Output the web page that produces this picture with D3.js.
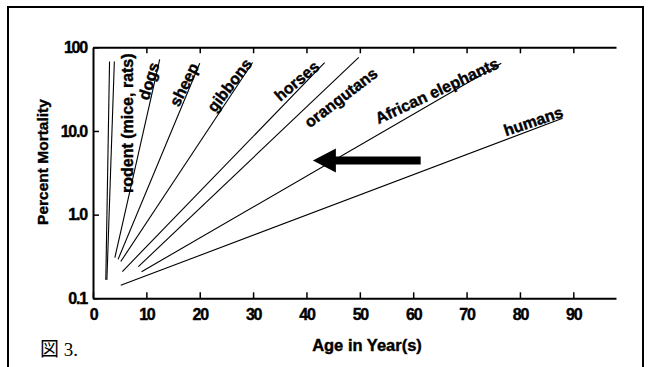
<!DOCTYPE html>
<html>
<head>
<meta charset="utf-8">
<script src="https://cdn.jsdelivr.net/npm/d3@7/dist/d3.min.js"></script>
<style>
  body { margin: 0; background: #fff; }
  text { font-family: "Liberation Sans", Arial, sans-serif; font-weight: bold; }
  .heavy { stroke: #000; stroke-width: 0.4px; }
</style>
</head>
<body>
<svg id="chart" width="652" height="367"></svg>
<script>
// mortality lines (age in years, percent mortality)
var species    = ["mice", "rats", "dogs", "sheep", "gibbons", "horses", "orangutans", "African elephants", "humans"];
var ageStart   = [2.4, 2.6, 4.1, 4.7, 5.2, 5.5, 8.5, 9.1, 5.2];
var ageEnd     = [3.1, 4.0, 12.5, 20.0, 29.9, 43.4, 49.8, 76.5, 88.0];
var mortStart  = [0.166, 0.166, 0.307, 0.292, 0.275, 0.209, 0.239, 0.208, 0.143];
var mortEnd    = [67.6, 67.6, 71.9, 64.4, 65.8, 65.5, 75.9, 64.4, 14.2];

var xTicks = [0, 10, 20, 30, 40, 50, 60, 70, 80, 90];
var yTicks = [0.1, 1, 10, 100];
var yTickLabels = ["0.1", "1.0", "10.0", "100"];

// big arrow pointing at the elephant line
var arrowAge  = [61.4, 41.2];
var arrowMort = [4.43, 4.43];

var svg = d3.select("#chart");

// outer frame
svg.append("rect")
  .attr("x", 8).attr("y", 7)
  .attr("width", 635).attr("height", 380)
  .attr("fill", "none").attr("stroke", "#000").attr("stroke-width", 2);

var x = d3.scaleLinear().domain([0, 98]).range([93, 616]);
var y = d3.scaleLog().domain([0.1, 100]).range([298.3, 47.3]);

// bottom axis, ticks point inward
var xAxis = svg.append("g")
  .attr("transform", "translate(0," + y(0.1) + ")")
  .call(d3.axisBottom(x).tickValues(xTicks).tickSizeInner(-6).tickSizeOuter(0).tickPadding(10));

// top frame line with ticks
var topAxis = svg.append("g")
  .attr("transform", "translate(0," + y(100) + ")")
  .call(d3.axisTop(x).tickValues(xTicks.slice(1)).tickSizeInner(-6).tickSizeOuter(0).tickFormat(""));

// left axis
var yAxis = svg.append("g")
  .attr("transform", "translate(" + x(0) + ",0)")
  .call(d3.axisLeft(y).tickValues(yTicks).tickSizeInner(-6).tickSizeOuter(0).tickPadding(6)
    .tickFormat(function(d, i){ return yTickLabels[i]; }));

[xAxis, topAxis, yAxis].forEach(function(g){
  g.select(".domain").attr("stroke-width", 2);
  g.selectAll(".tick line").attr("stroke-width", 1.5);
  g.selectAll(".tick text")
    .attr("class", "heavy")
    .attr("font-size", 16).attr("font-weight", "bold")
    .attr("font-family", "'Liberation Sans', Arial, sans-serif")
    .attr("letter-spacing", "-1.2px").attr("fill", "#000");
});

// axis titles
svg.append("text")
  .attr("class", "heavy")
  .attr("transform", "translate(48,162) rotate(-90)")
  .attr("text-anchor", "middle").attr("font-size", 15.5)
  .text("Percent Mortality");

svg.append("text")
  .attr("class", "heavy")
  .attr("x", 367).attr("y", 351)
  .attr("text-anchor", "middle").attr("font-size", 16.5)
  .text("Age in Year(s)");

svg.append("text")
  .attr("x", 40).attr("y", 356)
  .attr("font-size", 19)
  .style("font-family", "'Liberation Serif', 'Noto Sans CJK JP', serif")
  .style("font-weight", "normal")
  .text("図 3.");

// the lines
var lines = species.map(function(s, i){
  return { name: s, x0: x(ageStart[i]), y0: y(mortStart[i]), x1: x(ageEnd[i]), y1: y(mortEnd[i]) };
});

svg.append("g").selectAll("line")
  .data(lines).enter().append("line")
  .attr("x1", function(d){ return d.x0; })
  .attr("y1", function(d){ return d.y0; })
  .attr("x2", function(d){ return d.x1; })
  .attr("y2", function(d){ return d.y1; })
  .attr("stroke", "#000").attr("stroke-width", 1.1);

// labels sit along the upper end of each line, a little flatter than the line
var labelOpts = {
  "dogs":              { gap: 5,  perp: 1,  turn: 4 },
  "sheep":             { gap: 3,  perp: 1,  turn: 4 },
  "gibbons":           { gap: 1,  perp: 1,  turn: 4 },
  "horses":            { gap: 7,  perp: 1,  turn: 6 },
  "orangutans":        { gap: -2, perp: 27, turn: 6 },
  "African elephants": { gap: 3,  perp: 3,  turn: 5 },
  "humans":            { gap: -2, perp: -1, turn: 2 }
};

lines.forEach(function(d){
  var o = labelOpts[d.name];
  if (!o) return;
  var a = Math.atan2(d.y1 - d.y0, d.x1 - d.x0);
  var ux = Math.cos(a), uy = Math.sin(a);
  var px = d.x1 - ux * o.gap - uy * o.perp;
  var py = d.y1 - uy * o.gap + ux * o.perp;
  svg.append("text")
    .attr("class", "heavy")
    .attr("transform", "translate(" + px + "," + py + ") rotate(" + (a * 180 / Math.PI + o.turn) + ")")
    .attr("text-anchor", "end").attr("font-size", 16)
    .text(d.name);
});

// rodent label runs straight up beside the rodent lines
svg.append("text")
  .attr("class", "heavy")
  .attr("transform", "translate(" + (x(ageEnd[1]) + 19) + ",193) rotate(-90)")
  .attr("font-size", 16)
  .text("rodent (mice, rats)");

// arrow
var ax0 = x(arrowAge[0]), ax1 = x(arrowAge[1]), ay = y(arrowMort[0]);
var head = 23, headHalf = 12, shaftHalf = 4;
svg.append("polygon")
  .attr("points", [
    [ax1, ay], [ax1 + head, ay - headHalf], [ax1 + head, ay - shaftHalf],
    [ax0, ay - shaftHalf], [ax0, ay + shaftHalf], [ax1 + head, ay + shaftHalf],
    [ax1 + head, ay + headHalf]
  ].map(function(p){ return p.join(","); }).join(" "))
  .attr("fill", "#000");
</script>
</body>
</html>
